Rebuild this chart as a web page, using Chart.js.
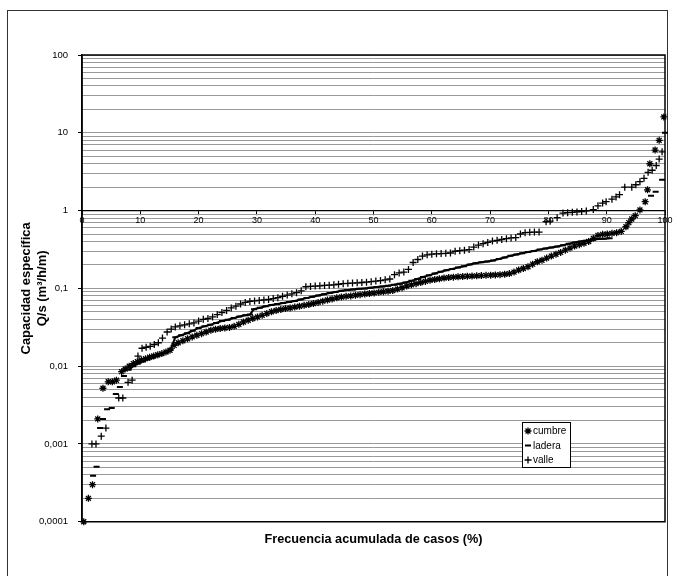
<!DOCTYPE html>
<html>
<head>
<meta charset="utf-8">
<script src="https://cdn.jsdelivr.net/npm/chart.js@4/dist/chart.umd.min.js"></script>
<style>
  html, body { margin: 0; padding: 0; background: #fff; }
  #wrap { position: relative; width: 674px; height: 576px; overflow: hidden; }
  #frame { position: absolute; left: 7px; top: 10px; width: 659px; height: 600px; border: 1.5px solid #333; }
  canvas { position: absolute; left: 0; top: 0; }
</style>
</head>
<body>
<div id="wrap">
  <div id="frame"></div>
  <canvas id="chart" width="674" height="576"></canvas>
</div>
<script>
// Frecuencia acumulada (%) y capacidad específica Q/s (m3/h/m)
const cumbreFreq = [
  0.3, 1.1, 1.8, 2.7, 3.6, 4.5, 5.2, 5.9, 6.8, 7.4,
  8.1, 8.8, 9.5, 10.2, 10.9, 11.6, 12.3, 13.0, 13.7, 14.4,
  15.1, 15.8, 16.5, 17.3, 18.1, 18.9, 19.7, 20.5, 21.3, 22.1,
  22.9, 23.7, 24.5, 25.3, 26.1, 26.9, 27.7, 28.5, 29.3, 30.1,
  30.9, 31.7, 32.5, 33.3, 34.1, 34.9, 35.7, 36.5, 37.3, 38.1,
  38.9, 39.7, 40.5, 41.3, 42.1, 42.9, 43.7, 44.5, 45.3, 46.1,
  46.9, 47.7, 48.5, 49.3, 50.1, 50.9, 51.7, 52.5, 53.3, 54.1,
  54.9, 55.7, 56.5, 57.3, 58.1, 58.9, 59.7, 60.5, 61.3, 62.1,
  62.9, 63.7, 64.5, 65.3, 66.1, 66.9, 67.7, 68.5, 69.3, 70.1,
  70.9, 71.7, 72.5, 73.3, 74.1, 74.9, 75.7, 76.5, 77.3, 78.1,
  78.9, 79.7, 80.5, 81.3, 82.1, 82.9, 83.7, 84.5, 85.3, 86.1,
  86.9, 87.7, 88.5, 89.3, 90.1, 90.9, 91.7, 92.5, 93.3, 93.8,
  94.3, 94.9, 95.7, 96.6, 97.0, 97.4, 98.3, 99.0, 99.8
];
const cumbreQs = [
  0.0001, 0.0002, 0.0003, 0.0021, 0.0052, 0.0063, 0.0063, 0.0066, 0.0085, 0.0092,
  0.0100, 0.0108, 0.0114, 0.0120, 0.0125, 0.0130, 0.0135, 0.0140, 0.0145, 0.0152,
  0.0160, 0.0185, 0.0200, 0.0212, 0.0225, 0.0238, 0.0250, 0.0262, 0.0275, 0.0290,
  0.0298, 0.0305, 0.0310, 0.0315, 0.0325, 0.0345, 0.0370, 0.0390, 0.0410, 0.0430,
  0.0450, 0.0475, 0.0500, 0.0520, 0.0535, 0.0550, 0.0560, 0.0575, 0.0590, 0.0605,
  0.0620, 0.0640, 0.0660, 0.0685, 0.0710, 0.0730, 0.0755, 0.0775, 0.0790, 0.0800,
  0.0815, 0.0830, 0.0845, 0.0860, 0.0875, 0.0890, 0.0905, 0.0920, 0.0940, 0.0980,
  0.102, 0.107, 0.111, 0.115, 0.119, 0.123, 0.127, 0.130, 0.133, 0.136,
  0.138, 0.1395, 0.141, 0.142, 0.143, 0.144, 0.145, 0.146, 0.147, 0.148,
  0.149, 0.150, 0.152, 0.155, 0.162, 0.172, 0.180, 0.190, 0.205, 0.220,
  0.230, 0.245, 0.260, 0.275, 0.290, 0.310, 0.330, 0.350, 0.365, 0.380,
  0.400, 0.440, 0.480, 0.495, 0.500, 0.510, 0.520, 0.540, 0.620, 0.700,
  0.780, 0.860, 1.02, 1.30, 1.85, 4.0, 6.0, 8.0, 16
];

const laderaFreq = [
  1.9, 2.5, 3.1, 3.6, 4.3, 5.1, 5.8, 6.5, 7.2, 8.0,
  8.8, 9.6, 10.4, 11.2, 12.0, 12.8, 13.6, 14.4, 15.2, 16.0,
  17.0, 18.0, 19.0, 20.0, 21.0, 22.0, 23.0, 24.0, 25.0, 26.0,
  27.0, 28.0, 28.8, 29.5, 30.5, 31.5, 32.5, 33.5, 34.5, 35.5,
  36.5, 37.5, 38.5, 39.5, 40.5, 41.5, 42.5, 43.5, 44.5, 45.5,
  46.5, 47.5, 48.5, 49.5, 50.5, 51.5, 52.5, 53.5, 54.5, 55.5,
  56.5, 57.5, 58.5, 59.5, 60.5, 61.5, 62.5, 63.5, 64.5, 65.5,
  66.5, 67.5, 68.5, 69.5, 70.5, 71.5, 72.5, 73.5, 74.5, 75.5,
  76.5, 77.5, 78.5, 79.5, 80.5, 81.5, 82.5, 83.5, 84.5, 85.5,
  86.5, 87.5, 88.5, 89.5, 90.5, 97.6, 98.4, 99.5, 100
];
const laderaQs = [
  0.00039, 0.00051, 0.0016, 0.0021, 0.0028, 0.0029, 0.0044, 0.0054, 0.0075, 0.0090,
  0.0100, 0.0108, 0.0115, 0.0122, 0.0128, 0.0134, 0.0141, 0.0150, 0.0165, 0.0235,
  0.0250, 0.0265, 0.0285, 0.0310, 0.0325, 0.0340, 0.0360, 0.0380, 0.0395, 0.0415,
  0.0435, 0.0450, 0.0460, 0.0540, 0.0565, 0.0590, 0.0610, 0.0630, 0.0650, 0.0670,
  0.0690, 0.0720, 0.0750, 0.0780, 0.0810, 0.0840, 0.0870, 0.0900, 0.0930, 0.0950,
  0.097, 0.099, 0.100, 0.102, 0.104, 0.106, 0.108, 0.111, 0.115, 0.119,
  0.125, 0.132, 0.140, 0.147, 0.155, 0.163, 0.171, 0.178, 0.185, 0.193,
  0.203, 0.211, 0.217, 0.222, 0.228, 0.238, 0.250, 0.262, 0.273, 0.283,
  0.293, 0.303, 0.315, 0.326, 0.335, 0.345, 0.358, 0.375, 0.390, 0.400,
  0.410, 0.420, 0.430, 0.435, 0.440, 1.55, 1.75, 2.5, 10
];

const valleFreq = [
  1.7, 2.4, 3.3, 4.1, 6.3, 7.0, 7.9, 8.6, 9.6, 10.3,
  11.0, 11.7, 12.4, 13.1, 13.8, 14.6, 15.3, 16.0, 16.8, 17.6,
  18.4, 19.2, 20.0, 20.8, 21.6, 22.4, 23.2, 24.0, 24.8, 25.6,
  26.4, 27.2, 28.0, 28.8, 29.6, 30.4, 31.2, 32.0, 32.8, 33.6,
  34.4, 35.2, 36.0, 36.8, 37.6, 38.4, 39.2, 40.0, 40.8, 41.6,
  42.4, 43.2, 44.0, 44.8, 45.6, 46.4, 47.2, 48.0, 48.8, 49.6,
  50.4, 51.2, 52.0, 52.8, 53.6, 54.4, 55.2, 56.0, 56.8, 57.6,
  58.4, 59.2, 60.0, 60.8, 61.6, 62.4, 63.2, 64.0, 64.8, 65.6,
  66.4, 67.2, 68.0, 68.8, 69.6, 70.4, 71.2, 72.0, 72.8, 73.6,
  74.4, 75.2, 76.0, 76.8, 77.6, 78.4, 79.6, 80.3, 81.5, 82.5,
  83.3, 84.1, 84.9, 85.7, 86.5, 87.7, 88.5, 89.3, 89.9, 90.9,
  91.6, 92.2, 93.1, 94.3, 95.0, 95.7, 96.4, 97.1, 97.8, 98.5,
  99.0, 99.5
];
const valleQs = [
  0.0010, 0.0010, 0.00126, 0.0016, 0.0039, 0.0039, 0.0062, 0.0066, 0.0135, 0.0170,
  0.0175, 0.0180, 0.0190, 0.0200, 0.0230, 0.0275, 0.0300, 0.0320, 0.0330, 0.0340,
  0.0350, 0.0360, 0.0380, 0.0400, 0.0410, 0.0430, 0.0460, 0.0490, 0.0520, 0.0560,
  0.0590, 0.0630, 0.0660, 0.0680, 0.0690, 0.0700, 0.0710, 0.0720, 0.0740, 0.0760,
  0.0790, 0.0820, 0.0850, 0.0880, 0.0930, 0.105, 0.106, 0.107, 0.108, 0.109,
  0.110, 0.111, 0.113, 0.115, 0.116, 0.117, 0.118, 0.119, 0.120, 0.122,
  0.124, 0.126, 0.129, 0.132, 0.150, 0.158, 0.162, 0.175, 0.215, 0.235,
  0.260, 0.270, 0.275, 0.278, 0.280, 0.282, 0.285, 0.300, 0.305, 0.310,
  0.315, 0.340, 0.360, 0.375, 0.390, 0.405, 0.415, 0.425, 0.435, 0.445,
  0.450, 0.500, 0.520, 0.525, 0.530, 0.530, 0.720, 0.730, 0.810, 0.930,
  0.940, 0.950, 0.960, 0.970, 0.990, 1.03, 1.15, 1.25, 1.30, 1.40,
  1.50, 1.60, 2.00, 2.00, 2.15, 2.35, 2.60, 3.10, 3.30, 3.80,
  4.60, 5.70
];

const xTicks = [0, 10, 20, 30, 40, 50, 60, 70, 80, 90, 100];
const yMajor = [0.0001, 0.001, 0.01, 0.1, 1, 10, 100];
const yLabels = ['0,0001', '0,001', '0,01', '0,1', '1', '10', '100'];

const FONT = 'Arial, "Liberation Sans", Helvetica, sans-serif';
Chart.defaults.font.family = FONT;
Chart.defaults.color = '#000';

const toPoints = (xs, ys) => xs.map((x, i) => ({ x, y: ys[i] }));

// gridlines at 1..9 of every decade
const yGrid = [];
yMajor.slice(0, -1).forEach(m => {
  for (let k = 1; k < 10; k++) yGrid.push(+(m * k).toPrecision(3));
});
yGrid.push(100);

const frameAndLegend = {
  id: 'frameAndLegend',
  afterDraw(chart) {
    const { ctx, chartArea: a } = chart;
    ctx.save();
    ctx.strokeStyle = '#000';
    ctx.lineWidth = 1.5;
    ctx.strokeRect(a.left, a.top, a.right - a.left, a.bottom - a.top);

    // legend box
    const bx = 522, by = 422, bw = 48, bh = 45;
    ctx.fillStyle = '#fff';
    ctx.fillRect(bx, by, bw, bh);
    ctx.lineWidth = 1;
    ctx.strokeRect(bx + 0.5, by + 0.5, bw, bh);
    ctx.font = '10px ' + FONT;
    ctx.textBaseline = 'middle';
    chart.data.datasets.forEach((ds, i) => {
      const y = by + 9 + i * 14.5;
      ctx.strokeStyle = '#000';
      ctx.fillStyle = '#000';
      ctx.lineWidth = ds.pointBorderWidth;
      if (Chart.helpers && Chart.helpers.drawPoint) {
        Chart.helpers.drawPoint(ctx, { pointStyle: ds.pointStyle, radius: ds.pointRadius, borderWidth: ds.pointBorderWidth, rotation: 0 }, bx + 6, y);
      }
      ctx.fillStyle = '#000';
      ctx.fillText(ds.label, bx + 11, y + 0.5);
    });
    ctx.restore();
  }
};

new Chart(document.getElementById('chart'), {
  type: 'scatter',
  data: {
    datasets: [
      {
        label: 'cumbre',
        data: toPoints(cumbreFreq, cumbreQs),
        pointStyle: 'star', pointRadius: 3.5, pointBorderWidth: 1.3,
        borderColor: '#000', backgroundColor: '#000', clip: 8
      },
      {
        label: 'ladera',
        data: toPoints(laderaFreq, laderaQs),
        pointStyle: 'line', pointRadius: 3, pointBorderWidth: 2,
        borderColor: '#000', backgroundColor: '#000', clip: 8,
        showLine: true, borderWidth: 2,
        segment: {
          borderColor: ctx => (ctx.p0.parsed.x < 8 || ctx.p1.parsed.x > 91) ? 'rgba(0,0,0,0)' : '#000'
        }
      },
      {
        label: 'valle',
        data: toPoints(valleFreq, valleQs),
        pointStyle: 'cross', pointRadius: 3.5, pointBorderWidth: 1.3,
        borderColor: '#000', backgroundColor: '#000', clip: 8
      }
    ]
  },
  options: {
    responsive: false,
    animation: false,
    devicePixelRatio: 1,
    layout: { padding: { left: 19, right: 9, top: 55, bottom: 29 } },
    plugins: {
      legend: { display: false },
      tooltip: { enabled: false },
      title: {
        display: true,
        position: 'bottom',
        fullSize: false,
        text: 'Frecuencia acumulada de casos (%)',
        font: { size: 12.7, weight: 'bold' },
        color: '#000',
        padding: { top: 10, bottom: 0 }
      }
    },
    scales: {
      x: {
        type: 'linear',
        min: 0, max: 100,
        position: { y: 1 },
        afterBuildTicks: s => { s.ticks = xTicks.map(v => ({ value: v })); },
        ticks: { font: { size: 9 }, color: '#000', padding: 1, autoSkip: false, maxRotation: 0 },
        grid: { drawOnChartArea: false, drawTicks: true, tickLength: 4, color: '#000' },
        border: { color: '#000', width: 1.2 }
      },
      y: {
        type: 'logarithmic',
        position: 'left',
        min: 0.0001, max: 100,
        afterBuildTicks: s => { s.ticks = yGrid.map(v => ({ value: v, major: yMajor.includes(v) })); },
        afterFit: s => { s.width = 63; },
        ticks: {
          autoSkip: false,
          font: { size: 9.5 },
          color: '#000',
          padding: 10,
          callback: v => {
            const i = yMajor.indexOf(v);
            return i >= 0 ? yLabels[i] : '';
          }
        },
        grid: {
          color: '#999',
          lineWidth: 1,
          tickLength: 4,
          tickColor: ctx => (ctx.tick && ctx.tick.major) ? '#000' : 'rgba(0,0,0,0)'
        },
        border: { color: '#000', width: 1.5 },
        title: {
          display: true,
          text: ['Capacidad específica', 'Q/s (m³/h/m)'],
          font: { size: 13, weight: 'bold' },
          color: '#000',
          padding: { top: 0, bottom: 0 }
        }
      }
    }
  },
  plugins: [frameAndLegend]
});
</script>
</body>
</html>
